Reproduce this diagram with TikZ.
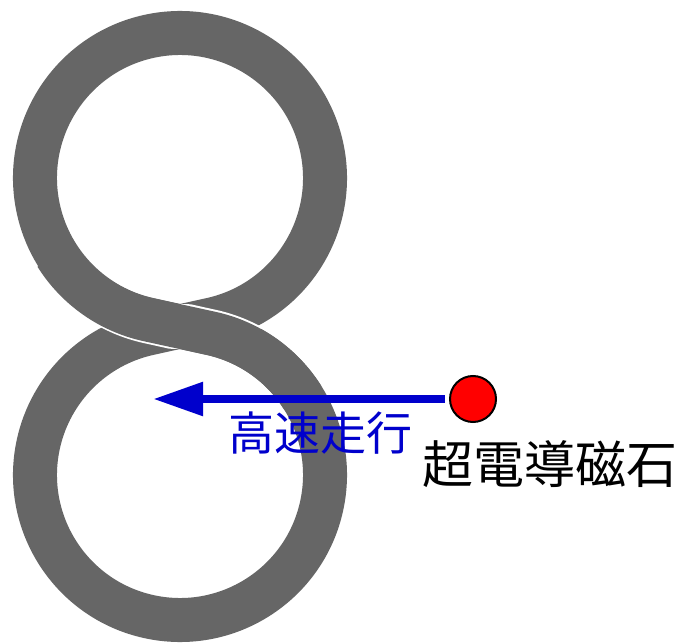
\documentclass[tikz,border=0pt]{standalone}
\usepackage{fontspec}
\newfontfamily\jpfont{Noto Sans CJK JP}
\usetikzlibrary{arrows.meta}
\definecolor{coil}{RGB}{102,102,102}
\definecolor{runblue}{RGB}{0,0,204}
\begin{document}
\begin{tikzpicture}[x=1pt,y=1pt,
  band/.style={draw=coil, line width=44pt},
  gapline/.style={draw=white, line width=48pt},
  runarrow/.style={draw=runblue, line width=8.5pt, -{Triangle[length=50pt,width=32pt]}, shorten <=4pt},
  magnet/.style={circle, fill=red, draw=black, line width=2pt, minimum size=46pt, inner sep=0pt},
  fasttext/.style={font=\jpfont\fontsize{46}{50}\selectfont, text=runblue, inner sep=0pt},
  magtext/.style={font=\jpfont\fontsize{51}{55}\selectfont, text=black, inner sep=0pt}]
\useasboundingbox (0,0) rectangle (687,643);
\fill[white] (0,0) rectangle (687,643);
% loop centres and tangent points
\coordinate (T) at (180,465);
\coordinate (B) at (180,168);
\coordinate (P1) at (148.7,323.42);
\coordinate (P2) at (211.3,323.42);
\coordinate (Q1) at (211.3,309.58);
\coordinate (Q2) at (148.7,309.58);
\coordinate (S) at (61.22,381.83);   % top loop, 215 deg
\coordinate (S2) at (55.99,388.19);  % top loop, 212 deg
% figure-eight coil
\path[band] (P1) -- (Q1) arc[start angle=77.53,end angle=-257.53,radius=145]
  -- (P2) arc[start angle=282.47,end angle=617.53,radius=145] -- cycle;
% upper strand of the crossing: white edges only where the strands overlap
\begin{scope}
  \clip (T) circle[radius=171];
  \clip (B) circle[radius=171];
  \path[gapline] (S) arc[start angle=215,end angle=257.53,radius=145] -- (Q1)
    arc[start angle=77.53,end angle=35,radius=145];
\end{scope}
\path[band] (S2) arc[start angle=212,end angle=257.53,radius=145] -- (Q1)
  arc[start angle=77.53,end angle=32,radius=145];
% magnet and motion
\node[magnet] (mag) at (473,244) {};
\coordinate (tip) at (153,244);
\draw[runarrow] (mag) -- (tip);
\node[fasttext] (fast) at (320,210) {高速走行};
\node[magtext] (label) at (549.5,179) {超電導磁石};
\end{tikzpicture}
\end{document}
